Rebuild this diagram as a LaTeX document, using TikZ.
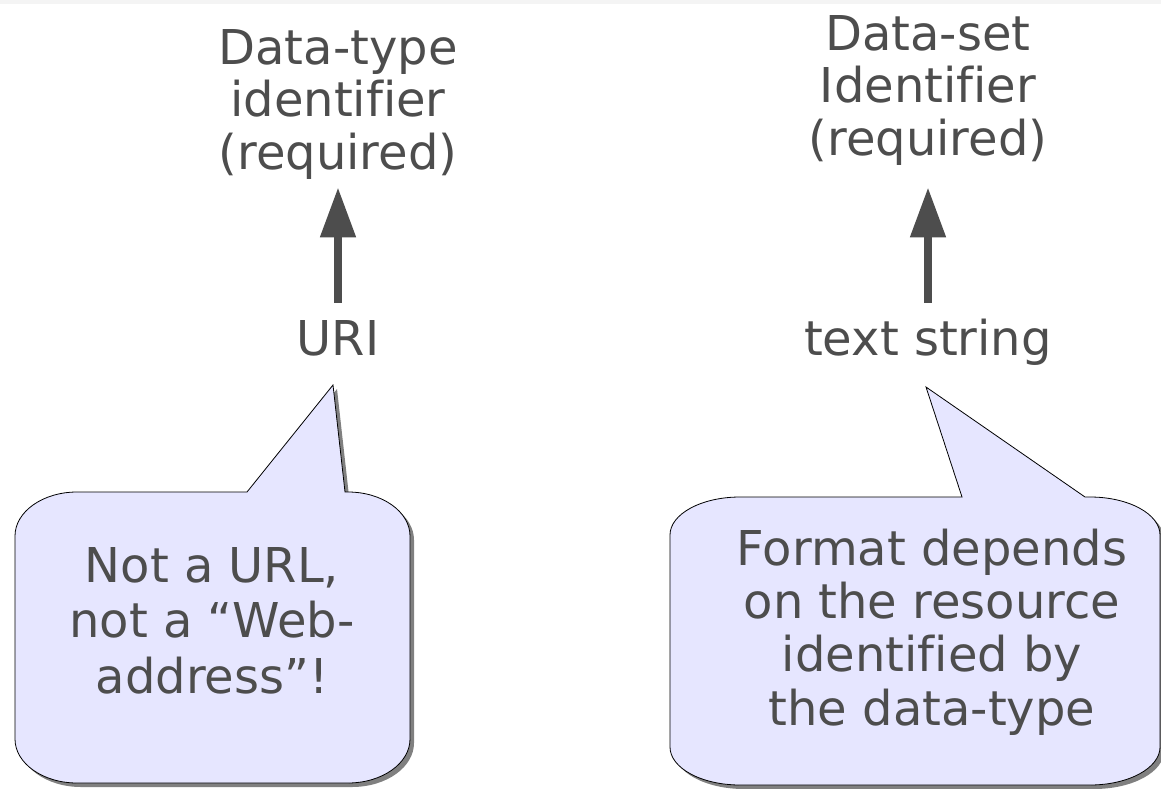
\documentclass[tikz,border=0pt]{standalone}
\usepackage{fontspec}
\setmainfont{DejaVu Sans}[Ligatures=NoCommon]
\usetikzlibrary{arrows.meta}

\definecolor{ink}{RGB}{77,77,77}
\definecolor{balloonfill}{RGB}{230,230,255}
\definecolor{balloonshadow}{RGB}{128,128,128}
\definecolor{topband}{RGB}{244,244,244}

% Speech balloon: #1 left, #2 top, #3 right, #4 bottom, #5/#6 corner radii,
% #7 tail base (left x), #8 tail tip (x,y), #9 tail base (right x)
\newcommand\speechballoon[9]{%
  \path[balloon] (#7,#2) -- (#8) -- (#9,#2)
    -- ({#3-#5},#2) .. controls ({#3-0.448*#5},#2) and (#3,{#2+0.448*#6}) .. (#3,{#2+#6})
    -- (#3,{#4-#6}) .. controls (#3,{#4-0.448*#6}) and ({#3-0.448*#5},#4) .. ({#3-#5},#4)
    -- ({#1+#5},#4) .. controls ({#1+0.448*#5},#4) and (#1,{#4-0.448*#6}) .. (#1,{#4-#6})
    -- (#1,{#2+#6}) .. controls (#1,{#2+0.448*#6}) and ({#1+0.448*#5},#2) .. ({#1+#5},#2)
    -- cycle;}

\tikzset{
  txt/.style={text=ink, inner sep=0pt, align=center, font=\fontsize{48}{52.5}\selectfont},
  balloon/.style={fill=balloonfill, draw=black, line width=0.8pt, line join=miter,
    preaction={fill=balloonshadow, transform canvas={shift={(4pt,-4pt)}}}},
  uparrow/.style={draw=ink, line width=8pt, -{Triangle[width=34pt,length=50pt]}},
}

\begin{document}
\begin{tikzpicture}[x=1pt, y=-1pt]
\useasboundingbox (0,0) rectangle (1161,789);
\clip (0,0) rectangle (1161,789);
\fill[white] (0,0) rectangle (1161,789);
\fill[topband] (0,0) rectangle (1161,4);

% identifiers and their value types
\node[txt, anchor=north] (dtid) at (338,29) {Data-type\\identifier\\(required)};
\node[txt, anchor=north] (dsid) at (928,15) {Data-set\\Identifier\\(required)};
\node[txt, anchor=base, text height=35pt] (uri) at (338,355) {URI};
\node[txt, anchor=base, text height=35pt] (str) at (928,355) {text string};

\draw[uparrow, shorten <=17pt, shorten >=8pt] (uri.north) -- (dtid.south);
\draw[uparrow, shorten <=17pt, shorten >=22pt] (str.north) -- (dsid.south);

% explanatory balloons
\speechballoon{15}{492}{410}{783}{62}{44}{247}{333,385}{345}
\speechballoon{670}{497}{1160}{785}{70}{38}{962}{926,387}{1085}

\node[txt, anchor=north, font=\fontsize{48}{55.5}\selectfont] (note1) at (212,547)
  {Not a URL,\\not a “Web-\\address”!};
\node[txt, anchor=north, font=\fontsize{48}{53.3}\selectfont] (note2) at (932,528.5)
  {Format depends\\on the resource\\identified by\\the data-type};
\end{tikzpicture}
\end{document}
